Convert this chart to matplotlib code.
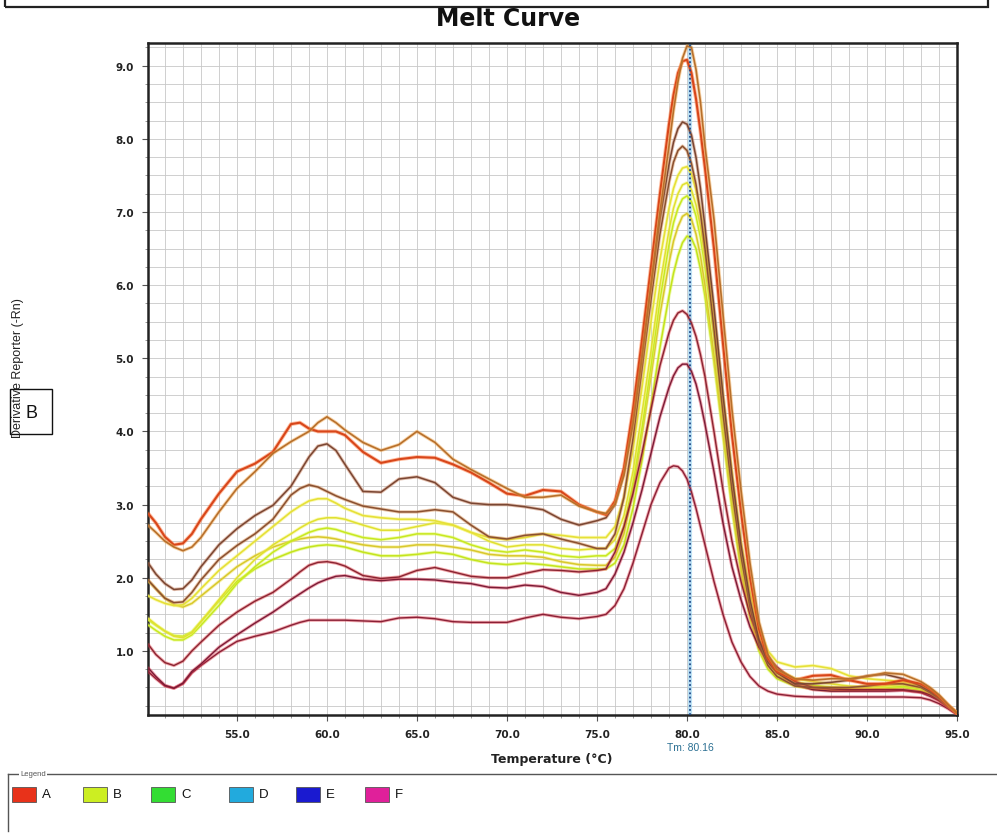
import matplotlib
matplotlib.use("Agg")
import matplotlib.pyplot as plt
import matplotlib.patheffects as pe
from matplotlib.patches import Rectangle
from matplotlib.lines import Line2D
from matplotlib.ticker import MultipleLocator, FormatStrFormatter

plt.rcParams['font.family'] = ['Liberation Sans', 'DejaVu Sans']

# ---------------- data ----------------
temps = [50.1, 50.5, 51, 51.5, 52, 52.5, 53,
         54, 55, 56, 57, 58,
         58.5, 59, 59.5, 60, 60.5, 61,
         62, 63, 64, 65, 66, 67, 68, 69, 70, 71, 72, 73, 74, 75,
         75.5, 76, 76.5, 77, 77.5, 78, 78.5, 79, 79.25, 79.5, 79.75, 80, 80.25, 80.5, 80.75,
         81, 81.5, 82, 82.5, 83, 83.5, 84, 84.5, 85,
         86, 87, 88, 89, 90, 91, 92, 93,
         93.5, 94, 94.5, 95]

o1 = [2.71, 2.62, 2.50, 2.42, 2.37, 2.42, 2.55,
      2.90, 3.22, 3.45, 3.70, 3.86,
      3.93, 4.00, 4.12, 4.20, 4.12, 4.02,
      3.85, 3.74, 3.82, 4.00, 3.85, 3.62, 3.48, 3.35, 3.22, 3.10, 3.10, 3.13, 2.98, 2.90,
      2.88, 3.00, 3.40, 4.10, 5.00, 6.00, 7.00, 7.90, 8.38, 8.78, 9.10, 9.27, 9.25, 8.95, 8.50,
      7.90, 6.90, 5.60, 4.30, 3.20, 2.20, 1.40, 0.95, 0.75,
      0.62, 0.60, 0.62, 0.62, 0.65, 0.70, 0.68, 0.58,
      0.50, 0.40, 0.27, 0.15]

o2 = [2.87, 2.75, 2.56, 2.45, 2.47, 2.60, 2.80,
      3.15, 3.45, 3.56, 3.72, 4.10,
      4.12, 4.04, 4.00, 4.00, 4.00, 3.95,
      3.72, 3.57, 3.62, 3.65, 3.64, 3.55, 3.44, 3.30, 3.15, 3.12, 3.20, 3.18, 3.00, 2.90,
      2.86, 3.05, 3.50, 4.30, 5.25, 6.25, 7.25, 8.20, 8.60, 8.90, 9.06, 9.08, 8.90, 8.55, 8.10,
      7.60, 6.50, 5.20, 3.95, 2.90, 2.00, 1.30, 0.90, 0.72,
      0.60, 0.66, 0.67, 0.60, 0.55, 0.55, 0.60, 0.55,
      0.48, 0.38, 0.26, 0.15]

b1 = [2.19, 2.05, 1.92, 1.84, 1.85, 1.97, 2.15,
      2.45, 2.67, 2.85, 2.99, 3.25,
      3.45, 3.65, 3.80, 3.83, 3.74, 3.55,
      3.18, 3.17, 3.35, 3.38, 3.30, 3.10, 3.02, 3.00, 3.00, 2.97, 2.93, 2.80, 2.72, 2.78,
      2.82, 3.00, 3.45, 4.20, 5.10, 6.00, 6.90, 7.65, 7.95, 8.14, 8.23, 8.20, 8.05, 7.75, 7.32,
      6.80, 5.70, 4.50, 3.40, 2.45, 1.70, 1.15, 0.85, 0.70,
      0.55, 0.55, 0.57, 0.60, 0.66, 0.68, 0.62, 0.52,
      0.45, 0.36, 0.25, 0.15]

b2 = [1.96, 1.85, 1.72, 1.66, 1.67, 1.80, 1.97,
      2.25, 2.44, 2.60, 2.80, 3.13,
      3.22, 3.27, 3.24, 3.18, 3.12, 3.07,
      2.98, 2.94, 2.90, 2.90, 2.93, 2.90, 2.72, 2.56, 2.53, 2.58, 2.60, 2.53, 2.47, 2.40,
      2.40, 2.60, 3.10, 3.90, 4.85, 5.80, 6.70, 7.40, 7.68, 7.84, 7.90, 7.84, 7.66, 7.38, 6.98,
      6.50, 5.40, 4.25, 3.20, 2.30, 1.60, 1.10, 0.80, 0.65,
      0.52, 0.50, 0.50, 0.50, 0.52, 0.55, 0.55, 0.50,
      0.43, 0.35, 0.24, 0.15]

y1 = [1.75, 1.70, 1.65, 1.62, 1.63, 1.72, 1.85,
      2.10, 2.30, 2.50, 2.70, 2.90,
      2.98, 3.05, 3.08, 3.08, 3.02, 2.95,
      2.85, 2.82, 2.80, 2.80, 2.78, 2.72, 2.62, 2.55, 2.52, 2.55, 2.60, 2.58, 2.55, 2.55,
      2.55, 2.70, 3.10, 3.75, 4.60, 5.50, 6.35, 7.05, 7.32, 7.50, 7.60, 7.62, 7.52, 7.30, 7.00,
      6.60, 5.60, 4.50, 3.45, 2.50, 1.80, 1.30, 1.00, 0.85,
      0.78, 0.80, 0.76, 0.66, 0.62, 0.60, 0.58, 0.52,
      0.45, 0.36, 0.25, 0.15]

y2 = [1.44, 1.36, 1.27, 1.20, 1.18, 1.25, 1.40,
      1.70, 2.00, 2.25, 2.45, 2.60,
      2.68, 2.75, 2.80, 2.82, 2.82, 2.80,
      2.72, 2.65, 2.65, 2.70, 2.75, 2.72, 2.62, 2.50, 2.42, 2.45, 2.45, 2.40, 2.38, 2.40,
      2.40, 2.52, 2.85, 3.45, 4.25, 5.10, 6.00, 6.75, 7.05, 7.25, 7.37, 7.40, 7.30, 7.10, 6.80,
      6.40, 5.45, 4.35, 3.30, 2.40, 1.70, 1.20, 0.90, 0.75,
      0.62, 0.58, 0.55, 0.52, 0.50, 0.52, 0.55, 0.50,
      0.44, 0.35, 0.24, 0.15]

y3 = [1.35, 1.28, 1.20, 1.15, 1.15, 1.22, 1.35,
      1.62, 1.92, 2.15, 2.35, 2.50,
      2.56, 2.62, 2.66, 2.68, 2.66, 2.62,
      2.55, 2.52, 2.55, 2.60, 2.60, 2.55, 2.45, 2.38, 2.35, 2.38, 2.35, 2.30, 2.28, 2.30,
      2.30, 2.40, 2.70, 3.30, 4.05, 4.90, 5.80, 6.55, 6.85, 7.05, 7.18, 7.22, 7.14, 6.95, 6.65,
      6.25, 5.30, 4.20, 3.15, 2.30, 1.60, 1.15, 0.85, 0.70,
      0.58, 0.53, 0.50, 0.48, 0.48, 0.50, 0.52, 0.48,
      0.42, 0.34, 0.24, 0.15]

y4 = [1.95, 1.85, 1.72, 1.63, 1.60, 1.65, 1.75,
      1.95, 2.15, 2.30, 2.42, 2.50,
      2.53, 2.55, 2.56, 2.55, 2.53, 2.50,
      2.45, 2.42, 2.42, 2.45, 2.45, 2.42, 2.38, 2.32, 2.30, 2.30, 2.28, 2.22, 2.18, 2.17,
      2.17, 2.28, 2.60, 3.20, 3.95, 4.75, 5.60, 6.30, 6.60, 6.80, 6.94, 6.98, 6.90, 6.70, 6.40,
      6.00, 5.05, 4.00, 3.00, 2.15, 1.50, 1.05, 0.80, 0.66,
      0.56, 0.52, 0.50, 0.50, 0.52, 0.55, 0.56, 0.50,
      0.44, 0.35, 0.24, 0.15]

y5 = [1.42, 1.35, 1.27, 1.21, 1.20, 1.26, 1.40,
      1.68, 1.95, 2.12, 2.25, 2.35,
      2.39, 2.42, 2.44, 2.45, 2.44, 2.42,
      2.35, 2.30, 2.30, 2.32, 2.35, 2.32, 2.25, 2.20, 2.18, 2.20, 2.18, 2.15, 2.12, 2.12,
      2.12, 2.20, 2.45, 2.95, 3.60, 4.35, 5.15, 5.85, 6.16, 6.40, 6.58, 6.67, 6.64, 6.50, 6.22,
      5.85, 4.95, 3.95, 2.95, 2.10, 1.45, 1.00, 0.75, 0.62,
      0.52, 0.48, 0.46, 0.46, 0.47, 0.48, 0.50, 0.46,
      0.41, 0.33, 0.23, 0.14]

r1 = [1.08, 0.95, 0.84, 0.80, 0.86, 1.00, 1.12,
      1.35, 1.53, 1.68, 1.80, 1.98,
      2.08, 2.17, 2.21, 2.22, 2.20, 2.16,
      2.03, 1.99, 2.01, 2.10, 2.14, 2.08, 2.02, 2.00, 2.00, 2.06, 2.11, 2.10, 2.08, 2.10,
      2.12, 2.35, 2.70, 3.15, 3.70, 4.30, 4.90, 5.35, 5.52, 5.62, 5.65, 5.60, 5.48, 5.30, 5.05,
      4.75, 4.00, 3.20, 2.50, 1.95, 1.50, 1.15, 0.92, 0.78,
      0.58, 0.50, 0.48, 0.47, 0.47, 0.47, 0.47, 0.44,
      0.40, 0.33, 0.24, 0.14]

r2 = [0.76, 0.65, 0.53, 0.49, 0.56, 0.72, 0.82,
      1.05, 1.22, 1.38, 1.53, 1.70,
      1.78, 1.86, 1.93, 1.98, 2.02, 2.03,
      1.98, 1.96, 1.98, 1.98, 1.97, 1.94, 1.92, 1.87, 1.86, 1.90, 1.88, 1.80, 1.76, 1.80,
      1.85, 2.05, 2.35, 2.75, 3.20, 3.70, 4.20, 4.60, 4.76, 4.87, 4.92, 4.92, 4.82, 4.65, 4.40,
      4.10, 3.45, 2.75, 2.15, 1.70, 1.33, 1.05, 0.85, 0.72,
      0.54, 0.47, 0.45, 0.45, 0.45, 0.45, 0.46, 0.43,
      0.38, 0.32, 0.23, 0.14]

r3 = [0.71, 0.62, 0.52, 0.49, 0.55, 0.70, 0.80,
      0.98, 1.13, 1.20, 1.26, 1.35,
      1.39, 1.42, 1.42, 1.42, 1.42, 1.42,
      1.41, 1.40, 1.45, 1.46, 1.44, 1.40, 1.39, 1.39, 1.39, 1.45, 1.50, 1.46, 1.44, 1.47,
      1.50, 1.62, 1.85, 2.20, 2.60, 3.00, 3.30, 3.50, 3.53, 3.52, 3.46, 3.35, 3.17, 2.95, 2.70,
      2.45, 1.95, 1.50, 1.12, 0.85, 0.65, 0.52, 0.45, 0.41,
      0.38, 0.37, 0.37, 0.37, 0.37, 0.37, 0.37, 0.36,
      0.33, 0.28, 0.21, 0.13]

tm_value = 80.16
x_ticks = [55.0, 60.0, 65.0, 70.0, 75.0, 80.0, 85.0, 90.0, 95.0]
y_ticks = [1.0, 2.0, 3.0, 4.0, 5.0, 6.0, 7.0, 8.0, 9.0]
legend_labels = ['A', 'B', 'C', 'D', 'E', 'F']
legend_colors = ['#e8321a', '#ccee22', '#33dd33', '#22aadd', '#1a1ad0', '#e0209a']

# ---------------- figure ----------------
W, H = 997, 837
fig = plt.figure(figsize=(W / 100, H / 100), dpi=100)
fig.patch.set_facecolor('white')


def fx(x):
    return x / W


def fy(y):
    return 1 - y / H


ax = fig.add_axes([fx(148), fy(716), (957 - 148) / W, (716 - 44) / H])
ax.set_xlim(50.06, 95.0)
ax.set_ylim(0.124, 9.31)

ax.xaxis.set_minor_locator(MultipleLocator(1))
ax.yaxis.set_minor_locator(MultipleLocator(0.25))
ax.set_xticks(x_ticks)
ax.set_yticks(y_ticks)
ax.xaxis.set_major_formatter(FormatStrFormatter('%.1f'))
ax.yaxis.set_major_formatter(FormatStrFormatter('%.1f'))
ax.grid(which='both', color='#c8c8c8', lw=0.6, zorder=0)
ax.set_axisbelow(True)
ax.tick_params(axis='both', which='major', length=4, width=0.8, color='#555555')
ax.tick_params(axis='both', which='minor', length=2.5, width=0.6, color='#888888')
ax.tick_params(axis='x', which='major', pad=6)
ax.tick_params(axis='y', which='major', pad=6)
for lab in ax.get_xticklabels() + ax.get_yticklabels():
    lab.set_fontfamily('DejaVu Sans')
    lab.set_fontweight('bold')
    lab.set_fontsize(7.5)
    lab.set_color('#222222')
for sp in ax.spines.values():
    sp.set_linewidth(1.8)
    sp.set_color('#222222')

# Tm marker line
ax.axvline(tm_value, color='#9fd3ee', lw=3.0, alpha=0.7, zorder=2)
ax.axvline(tm_value, color='#1f4a8a', lw=1.3, ls=(0, (1, 1.3)), zorder=6)

# (values, core colour, halo colour, width)
series = [
    (y5, '#c4e41c', '#d8f540', 1.1),
    (y4, '#d8c82c', '#f0e050', 1.1),
    (y3, '#c8e820', '#dcf848', 1.1),
    (y2, '#e0e030', '#f4f460', 1.1),
    (y1, '#e6e038', '#f6f468', 1.2),
    (r3, '#8a2036', '#e0404e', 1.0),
    (r2, '#7a1c36', '#d8304a', 1.0),
    (r1, '#8a2432', '#e03a40', 1.0),
    (b2, '#8a5030', '#d0803e', 1.1),
    (b1, '#7a4632', '#c0704a', 1.1),
    (o2, '#d8461a', '#ff6a28', 1.5),
    (o1, '#b8702c', '#f0a040', 1.2),
]
for vals, core, halo, lw in series:
    ax.plot(temps, vals, color=core, lw=lw, solid_joinstyle='round', zorder=4,
            path_effects=[pe.Stroke(linewidth=lw + 1.3, foreground=halo, alpha=0.45),
                          pe.Normal()])

# ---------------- outer texts ----------------
fig.text(fx(508), fy(19), 'Melt Curve', ha='center', va='center', fontsize=17,
         fontweight='bold', family='DejaVu Sans', color='#111111')
fig.text(fx(552), fy(760), 'Temperature (°C)', ha='center', va='center', fontsize=9,
         fontweight='bold', family='DejaVu Sans', color='#222222')
fig.text(fx(690), fy(748), 'Tm: 80.16', ha='center', va='center', fontsize=7.5,
         color='#2a6f92')
fig.text(fx(18), fy(368), 'Derivative Reporter (-Rn)', rotation=90, ha='center',
         va='center', fontsize=9, color='#222222')

# small box with B
fig.add_artist(Rectangle((fx(10), fy(435)), (52 - 10) / W, (435 - 390) / H,
                         transform=fig.transFigure, fill=False, lw=1.0, ec='#111111'))
fig.text(fx(31), fy(414), 'B', ha='center', va='center', fontsize=13, color='#111111')

# top box
fig.add_artist(Rectangle((fx(5), fy(8)), (988 - 5) / W, 0.05,
                         transform=fig.transFigure, fill=False, lw=1.6, ec='#222222'))

# legend frame
fig.add_artist(Line2D([fx(8), fx(997)], [fy(775), fy(775)], transform=fig.transFigure,
                      color='#555555', lw=1.0))
fig.add_artist(Line2D([fx(8), fx(8)], [fy(775), fy(832)], transform=fig.transFigure,
                      color='#555555', lw=1.0))
fig.text(fx(20), fy(775), 'Legend', ha='left', va='center', fontsize=5.5, color='#555555',
         bbox=dict(facecolor='white', edgecolor='none', pad=1.0))

sq_x = [12, 83, 151, 229, 296, 365]
for lab, col, x0 in zip(legend_labels, legend_colors, sq_x):
    fig.add_artist(Rectangle((fx(x0), fy(803)), 24 / W, 15 / H, transform=fig.transFigure,
                             facecolor=col, edgecolor='#555555', lw=0.6))
    fig.text(fx(x0 + 30), fy(795.5), lab, ha='left', va='center', fontsize=9.5,
             color='#111111')

fig.savefig('out.png', dpi=100)
